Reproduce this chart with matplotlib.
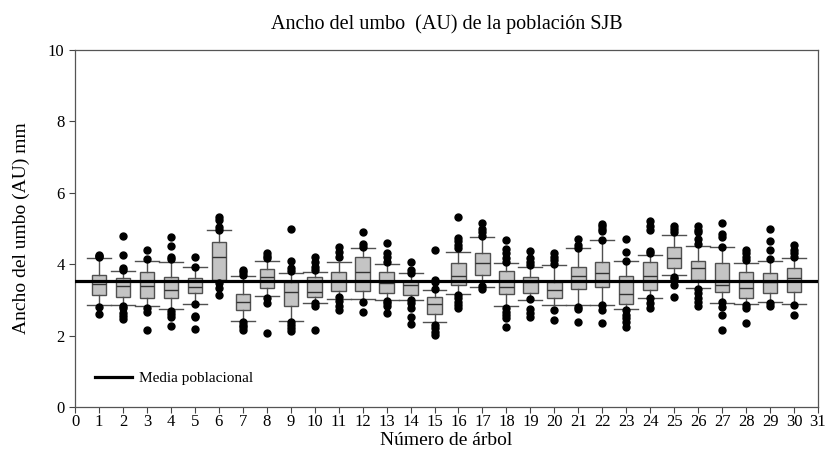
import matplotlib
matplotlib.use("Agg")
import matplotlib.pyplot as plt

trees = list(range(1, 31))
med = [3.44, 3.38, 3.38, 3.28, 3.36, 4.21, 2.95, 3.63, 3.23, 3.23,
       3.53, 3.79, 3.48, 3.43, 2.88, 3.67, 4.02, 3.37, 3.51, 3.28,
       3.68, 3.75, 3.16, 3.66, 4.16, 3.89, 3.43, 3.34, 3.51, 3.60]
q1 = [3.13, 3.07, 3.04, 3.06, 3.18, 3.56, 2.71, 3.32, 2.84, 3.07,
      3.25, 3.25, 3.20, 3.15, 2.60, 3.42, 3.70, 3.16, 3.18, 3.04,
      3.30, 3.37, 2.88, 3.29, 3.88, 3.56, 3.23, 3.06, 3.18, 3.23]
q3 = [3.71, 3.60, 3.79, 3.63, 3.62, 4.63, 3.16, 3.86, 3.51, 3.65,
      3.77, 4.21, 3.79, 3.53, 3.07, 4.02, 4.32, 3.81, 3.63, 3.51,
      3.92, 4.06, 3.67, 4.07, 4.49, 4.08, 4.02, 3.79, 3.76, 3.90]
whis_lo = [2.87, 2.85, 2.83, 2.74, 2.88, 3.52, 2.41, 3.12, 2.42, 2.90,
           3.03, 3.03, 3.00, 3.01, 2.37, 3.16, 3.37, 2.83, 3.00, 2.85,
           2.85, 2.87, 2.74, 3.06, 3.69, 3.34, 2.90, 2.88, 2.93, 2.88]
whis_hi = [4.16, 3.81, 4.09, 4.05, 3.91, 4.97, 3.67, 4.09, 3.74, 3.77,
           4.05, 4.44, 4.00, 3.76, 3.29, 4.35, 4.77, 4.04, 3.91, 3.98,
           4.45, 4.67, 4.09, 4.25, 4.83, 4.51, 4.47, 4.02, 4.09, 4.18]
outliers = [
    [4.27, 4.23, 4.19, 2.81, 2.60],
    [4.80, 4.27, 3.88, 3.83, 2.83, 2.76, 2.62, 2.55, 2.46],
    [4.40, 4.15, 2.76, 2.66, 2.15],
    [4.75, 4.51, 4.21, 4.15, 2.70, 2.60, 2.51, 2.28],
    [4.21, 3.92, 2.88, 2.55, 2.52, 2.18],
    [5.32, 5.24, 5.03, 4.97, 3.46, 3.34, 3.14],
    [3.83, 3.77, 3.69, 2.38, 2.31, 2.25, 2.17],
    [4.30, 4.23, 4.16, 3.04, 2.90, 2.06],
    [5.00, 4.09, 3.88, 3.80, 2.39, 2.30, 2.21, 2.13],
    [4.19, 4.07, 3.93, 3.84, 2.90, 2.83, 2.15],
    [4.49, 4.35, 4.19, 3.09, 2.98, 2.84, 2.72],
    [4.89, 4.56, 4.49, 2.93, 2.67],
    [4.58, 4.30, 4.21, 4.07, 2.98, 2.90, 2.82, 2.62],
    [4.07, 3.85, 3.74, 3.01, 2.90, 2.76, 2.53, 2.32],
    [4.39, 3.57, 3.51, 3.30, 2.30, 2.21, 2.11, 2.02],
    [5.32, 4.74, 4.65, 4.53, 4.46, 3.14, 3.04, 2.95, 2.86, 2.76],
    [5.15, 4.98, 4.89, 4.80, 3.40, 3.31],
    [4.67, 4.42, 4.30, 4.18, 4.07, 2.76, 2.67, 2.57, 2.48, 2.25],
    [4.37, 4.16, 4.07, 3.97, 3.02, 2.74, 2.62, 2.53],
    [4.30, 4.21, 4.12, 4.00, 2.72, 2.44],
    [4.70, 4.54, 4.45, 2.81, 2.74, 2.37],
    [5.14, 5.07, 5.00, 4.94, 4.68, 2.85, 2.72, 2.36],
    [4.70, 4.33, 4.09, 2.72, 2.57, 2.48, 2.39, 2.23],
    [5.21, 5.07, 4.95, 4.37, 4.30, 3.04, 2.90, 2.76],
    [5.07, 5.00, 4.91, 3.65, 3.58, 3.42, 3.07],
    [5.06, 4.97, 4.89, 4.70, 4.56, 3.30, 3.18, 3.04, 2.93, 2.84],
    [5.16, 4.86, 4.77, 4.49, 2.93, 2.81, 2.57, 2.17],
    [4.40, 4.30, 4.21, 4.12, 2.85, 2.76, 2.34],
    [5.00, 4.65, 4.40, 4.14, 2.90, 2.82],
    [4.53, 4.40, 4.30, 4.21, 2.87, 2.57],
]
pop_mean = 3.53
x_ticks = list(range(0, 32))
y_ticks = [0, 2, 4, 6, 8, 10]

title = "Ancho del umbo  (AU) de la población SJB"
xlabel = "Número de árbol"
ylabel = "Ancho del umbo (AU) mm"
legend_label = "Media poblacional"

plt.rcParams['font.family'] = ['Liberation Serif', 'DejaVu Serif']

fig = plt.figure(figsize=(8.26, 4.66), dpi=100)
ax = fig.add_axes([0.0908, 0.1266, 0.8995, 0.7661])

stats = []
for i in range(len(trees)):
    stats.append(dict(med=med[i], q1=q1[i], q3=q3[i], whislo=whis_lo[i],
                      whishi=whis_hi[i], fliers=outliers[i]))

ax.bxp(stats, positions=trees, widths=0.6, patch_artist=True,
       boxprops=dict(facecolor='#c4c4c4', edgecolor='#505050', linewidth=1.0),
       medianprops=dict(color='#333333', linewidth=1.0),
       whiskerprops=dict(color='#505050', linewidth=1.0),
       capprops=dict(color='#505050', linewidth=1.0),
       capwidths=1.0,
       flierprops=dict(marker='o', markerfacecolor='black', markeredgecolor='black',
                       markersize=5, linestyle='none'),
       manage_ticks=False, zorder=2)

ax.axhline(pop_mean, color='black', linewidth=2.3, zorder=3, label=legend_label)

ax.set_xlim(0, 31)
ax.set_ylim(0, 10)
ax.set_xticks(x_ticks)
ax.set_xticklabels([str(t) for t in x_ticks])
ax.set_yticks(y_ticks)
ax.tick_params(axis='both', direction='out', length=4, width=0.8, labelsize=12,
               color='#444444')
ax.tick_params(axis='x', pad=1)
for s in ax.spines.values():
    s.set_color('#555555')
    s.set_linewidth(0.9)

ax.set_title(title, fontsize=14.5, pad=15)
ax.set_xlabel(xlabel, fontsize=14, labelpad=1.5)
ax.set_ylabel(ylabel, fontsize=14, labelpad=13)

ax.legend(loc='center left', bbox_to_anchor=(0.027, 0.081), frameon=False,
          fontsize=11, handlelength=2.4, handletextpad=0.5,
          borderpad=0, borderaxespad=0)

fig.savefig("out.png", dpi=100)
